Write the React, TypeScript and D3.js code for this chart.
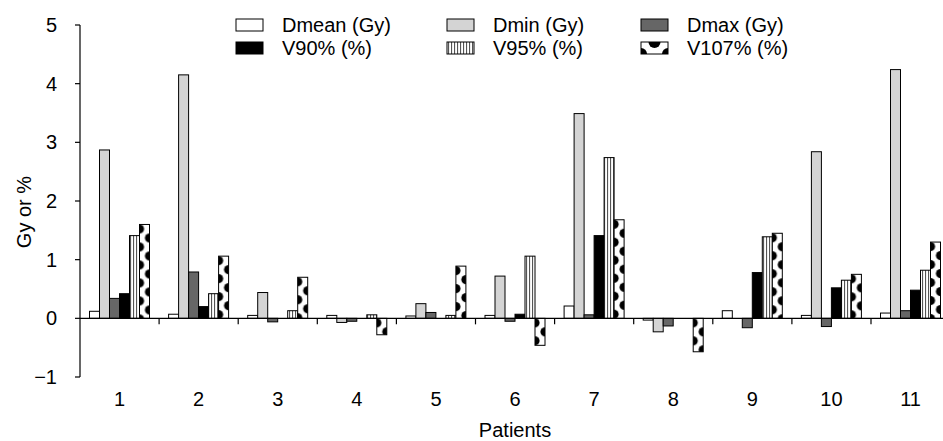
import React from "react";
import * as d3 from "d3";

const patients = ["1", "2", "3", "4", "5", "6", "7", "8", "9", "10", "11"];
const seriesNames = ["Dmean (Gy)", "Dmin (Gy)", "Dmax (Gy)", "V90% (%)", "V95% (%)", "V107% (%)"];
const dmean = [0.12, 0.07, 0.05, 0.05, 0.04, 0.05, 0.21, -0.03, 0.13, 0.05, 0.09];
const dmin = [2.87, 4.15, 0.44, -0.07, 0.25, 0.72, 3.49, -0.23, 0, 2.84, 4.24];
const dmax = [0.34, 0.79, -0.06, -0.05, 0.1, -0.05, 0.06, -0.13, -0.16, -0.14, 0.13];
const v90 = [0.42, 0.2, 0, 0, 0, 0.07, 1.41, 0, 0.78, 0.52, 0.48];
const v95 = [1.41, 0.42, 0.13, 0.06, 0.05, 1.06, 2.74, 0, 1.39, 0.65, 0.82];
const v107 = [1.6, 1.06, 0.7, -0.28, 0.89, -0.46, 1.68, -0.57, 1.45, 0.75, 1.3];
const yTicks = [-1, 0, 1, 2, 3, 4, 5];

const seriesValues = [dmean, dmin, dmax, v90, v95, v107];
const FONT = "'Liberation Sans', Arial, sans-serif";

export default function App() {
  const W = 943, H = 441;
  const groupW = 79.1;
  const x0 = d3.scaleBand<string>().domain(patients).range([80, 80 + groupW * patients.length]).paddingInner(0).paddingOuter(0);
  const x1 = d3.scaleBand<string>().domain(seriesNames).range([9.5, 69.5]).paddingInner(0);
  const y = d3.scaleLinear().domain([-1, 5]).range([377, 25]);
  const bw = x1.bandwidth();
  const fills = ["#ffffff", "#d4d4d4", "#666666", "#000000", "url(#v95pat)", null];
  const FS = 20;

  const bars: any[] = [];
  seriesValues.forEach((vals, si) => {
    vals.forEach((v, pi) => {
      if (v === 0) return;
      const bx = (x0(patients[pi]) as number) + (x1(seriesNames[si]) as number);
      const top = y(Math.max(0, v));
      const h = Math.abs(y(v) - y(0));
      bars.push({ si, pi, bx, top, h });
    });
  });

  const legendCols = [236, 447, 641];
  const legendRows = [25, 48];
  const boxW = 27, boxH = 12;

  return (
    <svg width={W} height={H} style={{ display: "block", position: "absolute", left: 0, top: 0 }} fontFamily={FONT}>
      <defs>
        <pattern id="v95pat" patternUnits="userSpaceOnUse" width={3} height={10}>
          <rect width={3} height={10} fill="#fff" />
          <rect x={1} width={1.1} height={10} fill="#555" />
        </pattern>
        {bars.filter(b => b.si === 5).map(b => (
          <pattern key={b.pi} id={`v107-${b.pi}`} patternUnits="userSpaceOnUse" x={b.bx} y={b.top} width={bw * 2} height={18}>
            <rect width={bw * 2} height={18} fill="#fff" />
            <circle cx={0} cy={4.5} r={4.6} fill="#000" />
            <circle cx={bw * 2} cy={4.5} r={4.6} fill="#000" />
            <circle cx={bw} cy={13.5} r={4.6} fill="#000" />
          </pattern>
        ))}
        <clipPath id="legclip">
          <rect x={legendCols[2]} y={legendRows[1] - boxH / 2} width={boxW} height={boxH} />
        </clipPath>
      </defs>

      {/* bars */}
      {bars.map(b => (
        <rect key={`${b.si}-${b.pi}`} x={b.bx} y={b.top} width={bw} height={b.h}
          fill={b.si === 5 ? `url(#v107-${b.pi})` : (fills[b.si] as string)}
          stroke="#000" strokeWidth={1} />
      ))}

      {/* y axis */}
      <line x1={80} x2={80} y1={y(5)} y2={y(-1)} stroke="#000" strokeWidth={1.2} />
      {yTicks.map(t => (
        <g key={t}>
          <line x1={75} x2={80} y1={y(t)} y2={y(t)} stroke="#000" strokeWidth={1.2} />
          <text x={57} y={y(t)} dy="0.35em" textAnchor="end" fontSize={FS} fill="#000">
            {t < 0 ? `\u2212${Math.abs(t)}` : t}
          </text>
        </g>
      ))}
      <text transform={`translate(24,${212}) rotate(-90)`} textAnchor="middle" dy="0.35em" fontSize={FS}>Gy or %</text>

      {/* x axis at zero */}
      <line x1={80} x2={W} y1={y(0)} y2={y(0)} stroke="#000" strokeWidth={1.2} />
      {patients.slice(1).map(p => (
        <line key={p} x1={x0(p) as number} x2={x0(p) as number} y1={y(0)} y2={y(0) + 6} stroke="#000" strokeWidth={1.2} />
      ))}
      {patients.map(p => (
        <text key={p} x={(x0(p) as number) + x0.bandwidth() / 2} y={399} dy="0.35em" textAnchor="middle" fontSize={FS}>{p}</text>
      ))}
      <text x={515} y={430} dy="0.35em" textAnchor="middle" fontSize={FS}>Patients</text>

      {/* legend */}
      {seriesNames.map((name, i) => {
        const col = i % 3, row = Math.floor(i / 3);
        const lx = legendCols[col], ly = legendRows[row];
        const isV107 = i === 5;
        return (
          <g key={name}>
            {isV107 ? (
              <g>
                <rect x={lx} y={ly - boxH / 2} width={boxW} height={boxH} fill="#fff" />
                <g clipPath="url(#legclip)">
                  <circle cx={lx + boxW / 2} cy={ly - boxH / 2} r={6} fill="#000" />
                  <circle cx={lx} cy={ly + boxH / 2} r={6} fill="#000" />
                  <circle cx={lx + boxW} cy={ly + boxH / 2} r={6} fill="#000" />
                </g>
                <rect x={lx} y={ly - boxH / 2} width={boxW} height={boxH} fill="none" stroke="#000" strokeWidth={1} />
              </g>
            ) : (
              <rect x={lx} y={ly - boxH / 2} width={boxW} height={boxH} fill={fills[i] as string} stroke="#000" strokeWidth={1} />
            )}
            <text x={lx + boxW + 19} y={ly} dy="0.35em" fontSize={FS}>{name}</text>
          </g>
        );
      })}
    </svg>
  );
}
